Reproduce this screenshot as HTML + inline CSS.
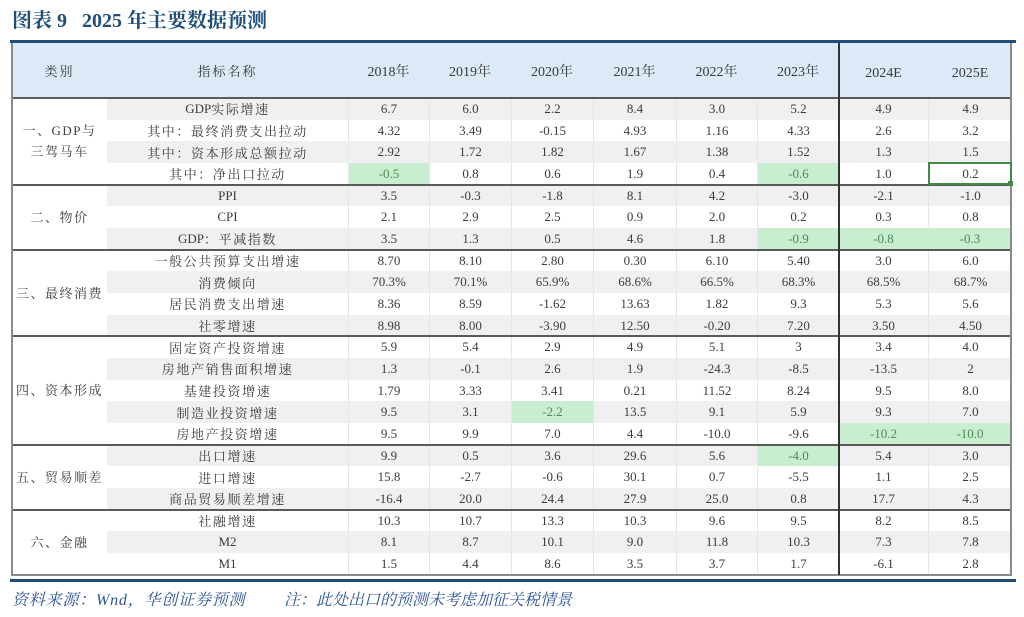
<!DOCTYPE html>
<html>
<head>
<meta charset="utf-8">
<style>
  html,body{margin:0;padding:0;background:#fff;}
  body{width:1024px;height:617px;position:relative;overflow:hidden;
       font-family:"Liberation Serif","Noto Serif CJK SC",serif;color:#3c3c3c;}
  .title{position:absolute;left:12px;top:8px;font-size:20px;font-weight:bold;color:#1f4e79;
         font-family:"Liberation Serif","Noto Serif CJK SC",serif;white-space:pre;line-height:26px;}
  .grid{position:absolute;left:12px;top:43px;width:1000px;display:grid;
        grid-template-columns:95px 241px 81px 82px 82px 83px 81px 82px 89px 84px;
        grid-template-rows:55px repeat(22,21.68px);}
  .grid > div{display:flex;align-items:center;justify-content:center;font-size:13px;
        white-space:nowrap;box-sizing:border-box;}
  .h{background:#dce9f6;font-size:14px !important;color:#3a3a3a;}
  .he{padding-top:6px;}
  .hc{font-family:"Liberation Serif","Noto Serif CJK SC",serif;letter-spacing:2px;font-size:13px !important;}
  .cat{grid-row:span 4;background:#fff;text-align:center;letter-spacing:1.5px;line-height:21px;flex-direction:column;}
  .ind{letter-spacing:1.6px;font-size:13px;}
  .ind .l{letter-spacing:0;}
  .g{background:#f0f0f0;}
  .w{background:#fff;}
  .v{border-left:1px solid #e6e6e6;}
  .gr{background:#c8edcf !important;color:#4f8a55;}
  .ln{position:absolute;}
  .foot{position:absolute;top:591px;font-size:16px;color:#2f5597;font-style:italic;
        font-family:"Liberation Serif","Noto Serif CJK SC",serif;white-space:nowrap;line-height:20px;}
</style>
</head>
<body>
<div class="title">图表 9   2025 年主要数据预测</div>

<div class="grid">
  <!-- header -->
  <div class="h hc">类别</div>
  <div class="h hc">指标名称</div>
  <div class="h">2018年</div>
  <div class="h">2019年</div>
  <div class="h">2020年</div>
  <div class="h">2021年</div>
  <div class="h">2022年</div>
  <div class="h">2023年</div>
  <div class="h he">2024E</div>
  <div class="h he">2025E</div>

  <!-- section 1 -->
  <div class="cat" style="grid-row:span 4;"><span>一、GDP与</span><span>三驾马车</span></div>
  <div class="g ind"><span class="l">GDP</span>实际增速</div>
  <div class="g v">6.7</div><div class="g v">6.0</div><div class="g v">2.2</div><div class="g v">8.4</div><div class="g v">3.0</div><div class="g v">5.2</div><div class="g">4.9</div><div class="g v">4.9</div>

  <div class="w ind">其中：最终消费支出拉动</div>
  <div class="w v">4.32</div><div class="w v">3.49</div><div class="w v">-0.15</div><div class="w v">4.93</div><div class="w v">1.16</div><div class="w v">4.33</div><div class="w">2.6</div><div class="w v">3.2</div>

  <div class="g ind">其中：资本形成总额拉动</div>
  <div class="g v">2.92</div><div class="g v">1.72</div><div class="g v">1.82</div><div class="g v">1.67</div><div class="g v">1.38</div><div class="g v">1.52</div><div class="g">1.3</div><div class="g v">1.5</div>

  <div class="w ind">其中：净出口拉动</div>
  <div class="w v gr">-0.5</div><div class="w v">0.8</div><div class="w v">0.6</div><div class="w v">1.9</div><div class="w v">0.4</div><div class="w v gr">-0.6</div><div class="w">1.0</div><div class="w v">0.2</div>

  <!-- section 2 -->
  <div class="cat" style="grid-row:span 3;">二、物价</div>
  <div class="g ind"><span class="l">PPI</span></div>
  <div class="g v">3.5</div><div class="g v">-0.3</div><div class="g v">-1.8</div><div class="g v">8.1</div><div class="g v">4.2</div><div class="g v">-3.0</div><div class="g">-2.1</div><div class="g v">-1.0</div>

  <div class="w ind"><span class="l">CPI</span></div>
  <div class="w v">2.1</div><div class="w v">2.9</div><div class="w v">2.5</div><div class="w v">0.9</div><div class="w v">2.0</div><div class="w v">0.2</div><div class="w">0.3</div><div class="w v">0.8</div>

  <div class="g ind"><span class="l">GDP</span>：平减指数</div>
  <div class="g v">3.5</div><div class="g v">1.3</div><div class="g v">0.5</div><div class="g v">4.6</div><div class="g v">1.8</div><div class="g v gr">-0.9</div><div class="g gr">-0.8</div><div class="g gr">-0.3</div>

  <!-- section 3 -->
  <div class="cat" style="grid-row:span 4;">三、最终消费</div>
  <div class="w ind">一般公共预算支出增速</div>
  <div class="w v">8.70</div><div class="w v">8.10</div><div class="w v">2.80</div><div class="w v">0.30</div><div class="w v">6.10</div><div class="w v">5.40</div><div class="w">3.0</div><div class="w v">6.0</div>

  <div class="g ind">消费倾向</div>
  <div class="g v">70.3%</div><div class="g v">70.1%</div><div class="g v">65.9%</div><div class="g v">68.6%</div><div class="g v">66.5%</div><div class="g v">68.3%</div><div class="g">68.5%</div><div class="g v">68.7%</div>

  <div class="w ind">居民消费支出增速</div>
  <div class="w v">8.36</div><div class="w v">8.59</div><div class="w v">-1.62</div><div class="w v">13.63</div><div class="w v">1.82</div><div class="w v">9.3</div><div class="w">5.3</div><div class="w v">5.6</div>

  <div class="g ind">社零增速</div>
  <div class="g v">8.98</div><div class="g v">8.00</div><div class="g v">-3.90</div><div class="g v">12.50</div><div class="g v">-0.20</div><div class="g v">7.20</div><div class="g">3.50</div><div class="g v">4.50</div>

  <!-- section 4 -->
  <div class="cat" style="grid-row:span 5;">四、资本形成</div>
  <div class="w ind">固定资产投资增速</div>
  <div class="w v">5.9</div><div class="w v">5.4</div><div class="w v">2.9</div><div class="w v">4.9</div><div class="w v">5.1</div><div class="w v">3</div><div class="w">3.4</div><div class="w v">4.0</div>

  <div class="g ind">房地产销售面积增速</div>
  <div class="g v">1.3</div><div class="g v">-0.1</div><div class="g v">2.6</div><div class="g v">1.9</div><div class="g v">-24.3</div><div class="g v">-8.5</div><div class="g">-13.5</div><div class="g v">2</div>

  <div class="w ind">基建投资增速</div>
  <div class="w v">1.79</div><div class="w v">3.33</div><div class="w v">3.41</div><div class="w v">0.21</div><div class="w v">11.52</div><div class="w v">8.24</div><div class="w">9.5</div><div class="w v">8.0</div>

  <div class="g ind">制造业投资增速</div>
  <div class="g v">9.5</div><div class="g v">3.1</div><div class="g v gr">-2.2</div><div class="g v">13.5</div><div class="g v">9.1</div><div class="g v">5.9</div><div class="g">9.3</div><div class="g v">7.0</div>

  <div class="w ind">房地产投资增速</div>
  <div class="w v">9.5</div><div class="w v">9.9</div><div class="w v">7.0</div><div class="w v">4.4</div><div class="w v">-10.0</div><div class="w v">-9.6</div><div class="w gr">-10.2</div><div class="w gr">-10.0</div>

  <!-- section 5 -->
  <div class="cat" style="grid-row:span 3;">五、贸易顺差</div>
  <div class="g ind">出口增速</div>
  <div class="g v">9.9</div><div class="g v">0.5</div><div class="g v">3.6</div><div class="g v">29.6</div><div class="g v">5.6</div><div class="g v gr">-4.0</div><div class="g">5.4</div><div class="g v">3.0</div>

  <div class="w ind">进口增速</div>
  <div class="w v">15.8</div><div class="w v">-2.7</div><div class="w v">-0.6</div><div class="w v">30.1</div><div class="w v">0.7</div><div class="w v">-5.5</div><div class="w">1.1</div><div class="w v">2.5</div>

  <div class="g ind">商品贸易顺差增速</div>
  <div class="g v">-16.4</div><div class="g v">20.0</div><div class="g v">24.4</div><div class="g v">27.9</div><div class="g v">25.0</div><div class="g v">0.8</div><div class="g">17.7</div><div class="g v">4.3</div>

  <!-- section 6 -->
  <div class="cat" style="grid-row:span 3;">六、金融</div>
  <div class="w ind">社融增速</div>
  <div class="w v">10.3</div><div class="w v">10.7</div><div class="w v">13.3</div><div class="w v">10.3</div><div class="w v">9.6</div><div class="w v">9.5</div><div class="w">8.2</div><div class="w v">8.5</div>

  <div class="g ind"><span class="l">M2</span></div>
  <div class="g v">8.1</div><div class="g v">8.7</div><div class="g v">10.1</div><div class="g v">9.0</div><div class="g v">11.8</div><div class="g v">10.3</div><div class="g">7.3</div><div class="g v">7.8</div>

  <div class="w ind"><span class="l">M1</span></div>
  <div class="w v">1.5</div><div class="w v">4.4</div><div class="w v">8.6</div><div class="w v">3.5</div><div class="w v">3.7</div><div class="w v">1.7</div><div class="w">-6.1</div><div class="w v">2.8</div>
</div>

<!-- lines -->
<div class="ln" style="left:10px;top:40px;width:1006px;height:3px;background:#1f4e79;"></div>
<div class="ln" style="left:12px;top:97px;width:1000px;height:2px;background:#5a5a5a;"></div>
<div class="ln" style="left:12px;top:184px;width:1000px;height:2px;background:#5a5a5a;"></div>
<div class="ln" style="left:12px;top:249px;width:1000px;height:2px;background:#5a5a5a;"></div>
<div class="ln" style="left:12px;top:335px;width:1000px;height:2px;background:#5a5a5a;"></div>
<div class="ln" style="left:12px;top:444px;width:1000px;height:2px;background:#5a5a5a;"></div>
<div class="ln" style="left:12px;top:509px;width:1000px;height:2px;background:#5a5a5a;"></div>
<div class="ln" style="left:12px;top:574px;width:1000px;height:2px;background:#8a8a8a;"></div>
<div class="ln" style="left:11px;top:43px;width:2px;height:533px;background:#8a8a8a;"></div>
<div class="ln" style="left:1010px;top:43px;width:2px;height:533px;background:#8a8a8a;"></div>
<div class="ln" style="left:838px;top:43px;width:1.5px;height:532px;background:#333;"></div>
<div class="ln" style="left:10px;top:579px;width:1006px;height:3px;background:#1f4e79;"></div>

<!-- selection box -->
<div class="ln" style="left:928px;top:162px;width:84px;height:23px;border:2px solid #3f8a45;box-sizing:border-box;"></div>
<div class="ln" style="left:1008px;top:181px;width:5px;height:5px;background:#3f8a45;"></div>

<div class="foot" style="left:12px;letter-spacing:0.8px;">资料来源：Wnd，华创证券预测</div>
<div class="foot" style="left:284px;">注：此处出口的预测未考虑加征关税情景</div>
</body>
</html>
